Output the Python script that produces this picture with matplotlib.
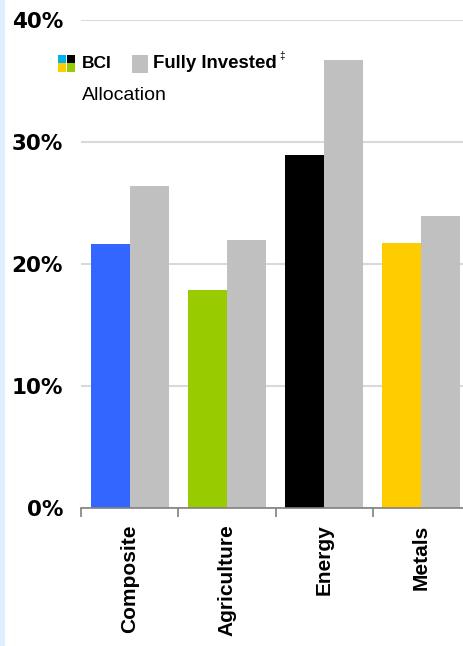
import matplotlib
matplotlib.use("Agg")
import matplotlib.pyplot as plt
from matplotlib.patches import Rectangle
import numpy as np

categories = ["Composite", "Agriculture", "Energy", "Metals"]
bci_values = [21.6, 17.9, 28.9, 21.7]
fully_invested = [26.4, 22.0, 36.7, 23.9]
bci_colors = ["#3366ff", "#99cc00", "#000000", "#ffcc00"]
gray = "#c0c0c0"
yticks = [0, 10, 20, 30, 40]
ytick_labels = ["0%", "10%", "20%", "30%", "40%"]

W, H = 463, 646
fig = plt.figure(figsize=(W / 100, H / 100), dpi=100)
fig.patch.set_facecolor("white")

# light blue strip on the left
fig.add_artist(Rectangle((0, 0), 5 / W, 1, transform=fig.transFigure,
                         facecolor="#ddeeff", edgecolor="none", zorder=0))

ax_left, ax_right = 81, 470
ax_bottom, ax_top = 508, 20
ax = fig.add_axes([ax_left / W, 1 - ax_bottom / H, (ax_right - ax_left) / W,
                   (ax_bottom - ax_top) / H])
ax.set_facecolor("none")

x = np.arange(len(categories))
bw = 0.4
ax.bar(x - bw / 2, bci_values, width=bw, color=bci_colors, zorder=3)
ax.bar(x + bw / 2, fully_invested, width=bw, color=gray, zorder=3)

ax.set_xlim(-0.5, len(categories) - 0.5)
ax.set_ylim(0, 40)
ax.set_yticks(yticks)
ax.set_yticklabels(ytick_labels, fontfamily="DejaVu Sans", fontweight="bold",
                   fontsize=15.5)
ax.tick_params(axis="y", length=0, pad=13)
ax.yaxis.grid(True, color="#d9d9d9", linewidth=1.5, zorder=0)
ax.set_axisbelow(True)

for s in ["left", "right", "top"]:
    ax.spines[s].set_visible(False)
ax.spines["bottom"].set_color("#808080")
ax.spines["bottom"].set_linewidth(1.2)
ax.spines["bottom"].set_zorder(4)

ax.set_xticks(x)
ax.set_xticklabels(categories, rotation=90, va="top", ha="center",
                   fontfamily="Liberation Sans", fontweight="bold", fontsize=15)
ax.tick_params(axis="x", which="major", length=0, pad=12)
ax.set_xticks(np.arange(-0.5, len(categories), 1.0), minor=True)
ax.tick_params(axis="x", which="minor", length=6.5, width=1.2, color="#808080",
               direction="out")

# Legend
def fx(px):
    return px / W

def fy(py):
    return 1 - py / H

sq = 17
x0, y0 = 58, 55
half = sq / 2
quad = [("#00b0f0", 0, 0), ("#000000", half, 0), ("#ffcc00", 0, half), ("#99cc00", half, half)]
for c, dx, dy in quad:
    fig.add_artist(Rectangle((fx(x0 + dx), fy(y0 + dy + half)), half / W, half / H,
                             transform=fig.transFigure, facecolor=c, edgecolor="none"))
fig.text(fx(82), fy(64), "BCI", fontfamily="Liberation Sans", fontweight="bold",
         fontsize=12.5, va="center", ha="left")
fig.add_artist(Rectangle((fx(132), fy(73)), 16 / W, 18 / H, transform=fig.transFigure,
                         facecolor=gray, edgecolor="none"))
fig.text(fx(153), fy(64), "Fully Invested", fontfamily="Liberation Sans",
         fontweight="bold", fontsize=13.4, va="center", ha="left")
fig.text(fx(279), fy(56), "\u2021", fontfamily="Liberation Sans",
         fontsize=7, va="center", ha="left")
fig.text(fx(82), fy(96), "Allocation", fontfamily="Liberation Sans",
         fontsize=14, va="center", ha="left")

fig.savefig("out.png", dpi=100)
